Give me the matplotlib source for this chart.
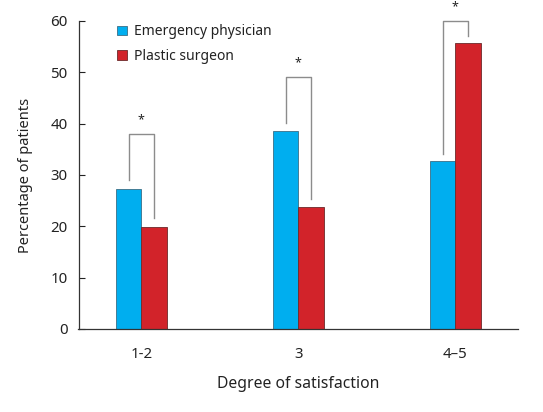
import numpy as np
import matplotlib.pyplot as plt

# Data
categories = ["1-2", "3", "4\u20135"]
emergency = [27.3, 38.6, 32.7]
plastic = [19.9, 23.8, 55.7]
series_names = ["Emergency physician", "Plastic surgeon"]

# significance brackets: top of bracket, bottom of left / right leg, star height
bracket_top = [38.0, 49.1, 60.0]
left_leg_bottom = [29.0, 40.2, 34.1]
right_leg_bottom = [21.6, 25.3, 57.1]
star_y = [40.7, 51.8, 62.7]

blue = "#00aeef"
red = "#d2232a"
grey = "#8c8c8c"

plt.rcParams['font.family'] = ['Noto Sans', 'DejaVu Sans']

fig = plt.figure(figsize=(5.43, 4.12), dpi=100)
ax = fig.add_axes([78.5 / 543, 1 - 329 / 412, (518 - 78.5) / 543, (329 - 21) / 412])

x = np.arange(len(categories))
w = 0.162
ax.bar(x - w / 2, emergency, w, color=blue, edgecolor="#3a6f86", linewidth=0.6,
       label=series_names[0], zorder=2)
ax.bar(x + w / 2, plastic, w, color=red, edgecolor="#6b2a2a", linewidth=0.6,
       label=series_names[1], zorder=2)

# brackets: legs stand over the centre of each bar
for i in range(len(categories)):
    xl = x[i] - w / 2
    xr = x[i] + w / 2
    ax.plot([xl, xl, xr, xr],
            [left_leg_bottom[i], bracket_top[i], bracket_top[i], right_leg_bottom[i]],
            color=grey, lw=1.0, clip_on=False, zorder=3)
    ax.text(x[i], star_y[i], "*", ha="center", va="center",
            fontsize=9, color="#222222", clip_on=False)

ax.set_xlim(-0.4, 2.4)
ax.set_ylim(0, 60)
ax.set_yticks([0, 10, 20, 30, 40, 50, 60])
ax.set_xticks(x)
ax.set_xticklabels(categories)
ax.tick_params(axis="x", length=0, pad=13, labelsize=10.8, colors="#222222")
ax.tick_params(axis="y", direction="in", length=4, width=0.8, pad=8,
               labelsize=10.8, colors="#222222")

for s in ["top", "right"]:
    ax.spines[s].set_visible(False)
for s in ["left", "bottom"]:
    ax.spines[s].set_color("#333333")
    ax.spines[s].set_linewidth(0.9)

ax.set_xlabel("Degree of satisfaction", fontsize=11.3, color="#222222", labelpad=10)
ax.set_ylabel("Percentage of patients", fontsize=10.5, color="#222222", labelpad=12)

leg = ax.legend(loc="upper left", bbox_to_anchor=(0.06, 1.03), frameon=False,
                fontsize=10, handlelength=0.7, handleheight=0.7,
                handletextpad=0.5, labelspacing=0.7)
for t in leg.get_texts():
    t.set_color("#222222")

fig.savefig("out.png", dpi=100)
